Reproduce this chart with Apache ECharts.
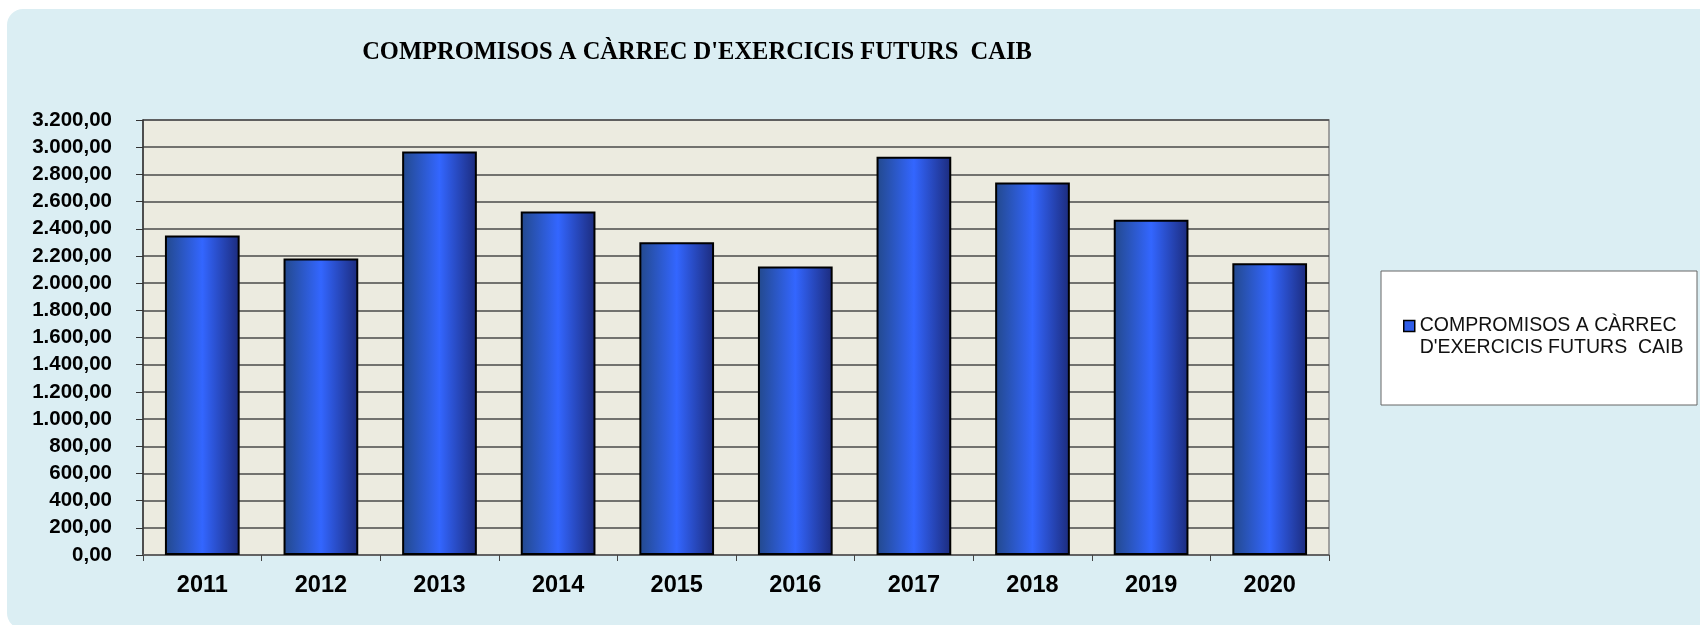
<!DOCTYPE html>
<html>
<head>
<meta charset="utf-8">
<script src="https://cdn.jsdelivr.net/npm/echarts@6/dist/echarts.min.js"></script>
<style>
  html, body { margin: 0; padding: 0; background: #ffffff; }
  #chart { width: 1700px; height: 625px; }
</style>
</head>
<body>
<div id="chart"></div>
<script>
// dades llegides del gràfic
const years = ['2011', '2012', '2013', '2014', '2015', '2016', '2017', '2018', '2019', '2020'];
const compromisos = [2350, 2181, 2968, 2527, 2301, 2122, 2929, 2740, 2466, 2147];
const seriesName = "COMPROMISOS A CÀRREC\nD'EXERCICIS FUTURS  CAIB";
const titleText = "COMPROMISOS A CÀRREC D'EXERCICIS FUTURS  CAIB";

// 3200 -> "3.200,00"
function fmt(v) {
  const parts = v.toFixed(2).split('.');
  const int = parts[0].replace(/\B(?=(\d{3})+(?!\d))/g, '.');
  return int + ',' + parts[1];
}

const chart = echarts.init(document.getElementById('chart'));

const option = {
  animation: false,
  backgroundColor: '#ffffff',
  graphic: [
    {
      type: 'rect',
      z: -10,
      shape: { x: 7, y: 9, width: 1720, height: 620, r: 16 },
      style: { fill: '#dbeef3' }
    },
    {
      // caixa de la llegenda
      type: 'rect',
      z: -5,
      shape: { x: 1381, y: 271, width: 316, height: 134 },
      style: { fill: '#ffffff', stroke: '#666666', lineWidth: 1 }
    }
  ],
  title: {
    text: titleText,
    left: 692,
    textAlign: 'center',
    top: 35,
    textStyle: {
      fontFamily: 'Liberation Serif',
      fontWeight: 'bold',
      fontSize: 24.5,
      color: '#000000'
    }
  },
  legend: {
    left: 1403,
    top: 293,
    padding: 0,
    itemWidth: 11,
    itemHeight: 11,
    icon: 'rect',
    itemStyle: { color: '#2f5de8', borderColor: '#000000', borderWidth: 1.5 },
    // primera línia alineada amb la icona
    formatter: function (name) { return '\n' + name; },
    textStyle: {
      fontFamily: 'Liberation Sans',
      fontSize: 19.5,
      color: '#111111',
      lineHeight: 22
    },
    data: [seriesName]
  },
  grid: {
    left: 143,
    top: 120,
    width: 1186,
    height: 435,
    show: true,
    backgroundColor: '#ecebe0',
    borderColor: '#888888',
    borderWidth: 1.5
  },
  xAxis: {
    type: 'category',
    data: years,
    axisLine: { show: true, lineStyle: { color: '#666666', width: 1.5 } },
    axisTick: { show: true, length: 6, lineStyle: { color: '#444444' } },
    axisLabel: {
      margin: 19,
      fontFamily: 'Liberation Sans',
      fontWeight: 'bold',
      fontSize: 23.5,
      color: '#000000'
    }
  },
  yAxis: {
    type: 'value',
    min: 0,
    max: 3200,
    interval: 200,
    axisLine: { show: true, lineStyle: { color: '#333333', width: 1.5 } },
    axisTick: { show: true, inside: false, length: 7, lineStyle: { color: '#333333' } },
    splitLine: { show: true, lineStyle: { color: '#4a4a4a', width: 1.5 } },
    axisLabel: {
      margin: 31,
      fontFamily: 'Liberation Sans',
      fontWeight: 'bold',
      fontSize: 20.5,
      color: '#000000',
      formatter: fmt
    }
  },
  series: [
    {
      name: seriesName,
      type: 'bar',
      data: compromisos,
      barWidth: '63%',
      itemStyle: {
        borderColor: '#000000',
        borderWidth: 2,
        color: new echarts.graphic.LinearGradient(0, 0, 1, 0, [
          { offset: 0, color: '#23498c' },
          { offset: 0.5, color: '#3366ff' },
          { offset: 1, color: '#1c2b7c' }
        ])
      }
    }
  ]
};

chart.setOption(option);
</script>
</body>
</html>
